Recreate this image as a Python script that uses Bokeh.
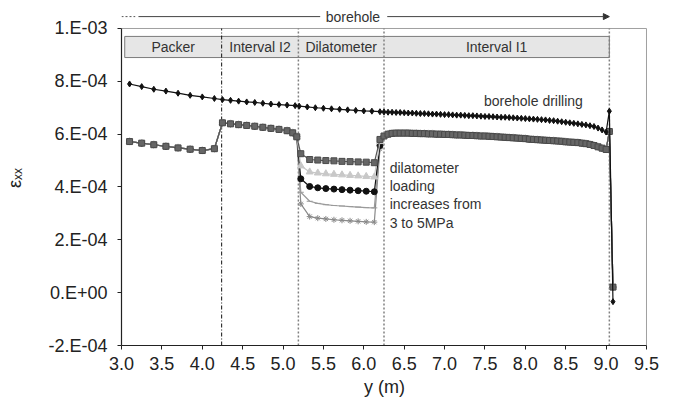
import numpy as np
from bokeh.plotting import figure
from bokeh.models import FixedTicker, Arrow, NormalHead, Label
from bokeh.core.properties import value
from bokeh.embed import file_html
from bokeh.resources import INLINE

FONT = "Liberation Sans"
E4 = 1e-4  # strain values below are stored in units of 1e-4

# ---- borehole drilling curve -------------------------------------------
drill_pos = [3.10, 3.25, 3.40, 3.55, 3.70, 3.85, 4.00, 4.15,
             4.25, 4.35, 4.45, 4.55, 4.65, 4.75, 4.85, 4.95, 5.05, 5.15,
             5.20, 5.30, 5.40, 5.50, 5.60, 5.70, 5.80, 5.90, 6.00, 6.10, 6.20,
             6.25, 6.30, 6.35, 6.40, 6.45, 6.50, 6.55, 6.60, 6.65, 6.70,
             6.75, 6.80, 6.85, 6.90, 6.95, 7.00, 7.05, 7.10, 7.15, 7.20,
             7.25, 7.30, 7.35, 7.40, 7.45, 7.50, 7.55, 7.60, 7.65, 7.70,
             7.75, 7.80, 7.85, 7.90, 7.95, 8.00, 8.05, 8.10, 8.15, 8.20,
             8.25, 8.30, 8.35, 8.40, 8.45, 8.50, 8.55, 8.60, 8.65, 8.70,
             8.75, 8.80, 8.85, 8.90, 8.95, 9.00,
             9.04, 9.085]
drill_eps = [7.90, 7.80, 7.70, 7.63, 7.55, 7.47, 7.41, 7.35,
             7.31, 7.28, 7.25, 7.22, 7.20, 7.17, 7.14, 7.12, 7.10, 7.08,
             7.06, 7.03, 7.00, 6.98, 6.96, 6.94, 6.92, 6.90, 6.88, 6.87, 6.85,
             6.84, 6.83, 6.83, 6.82, 6.82, 6.81, 6.80, 6.80, 6.79, 6.78,
             6.78, 6.77, 6.76, 6.76, 6.75, 6.74, 6.74, 6.73, 6.72, 6.72,
             6.71, 6.70, 6.70, 6.69, 6.68, 6.67, 6.67, 6.66, 6.65, 6.64,
             6.64, 6.63, 6.62, 6.61, 6.60, 6.59, 6.58, 6.57, 6.56, 6.55,
             6.54, 6.52, 6.51, 6.49, 6.47, 6.45, 6.43, 6.41, 6.39, 6.37,
             6.35, 6.32, 6.29, 6.23, 6.16, 6.08,
             6.87, -0.34]

# ---- dilatometer loading curves ------------------------------------------
# shared part before the dilatometer
load_pos_before = [3.10, 3.25, 3.40, 3.55, 3.70, 3.85, 4.00, 4.15,
                   4.25, 4.35, 4.45, 4.55, 4.65, 4.75, 4.85, 4.95, 5.05, 5.12, 5.17]
load_eps_before = [5.72, 5.66, 5.60, 5.54, 5.48, 5.43, 5.38, 5.45,
                   6.43, 6.39, 6.36, 6.33, 6.30, 6.26, 6.22, 6.18, 6.13, 6.05, 5.90]

# inside the dilatometer, one curve per loading step
dil_pos = [5.22, 5.33, 5.43, 5.53, 5.63, 5.73, 5.83, 5.93, 6.03, 6.13, 6.20]
dil_eps_3_0 = [5.26, 5.04, 5.02, 5.00, 4.99, 4.97, 4.96, 4.95, 4.94, 4.92, 5.80]
dil_eps_3_5 = [4.80, 4.57, 4.53, 4.50, 4.48, 4.46, 4.44, 4.42, 4.40, 4.38, 5.72]
dil_eps_4_0 = [4.31, 4.02, 3.97, 3.94, 3.92, 3.90, 3.88, 3.86, 3.84, 3.82, 5.57]
dil_eps_4_5 = [3.80, 3.46, 3.38, 3.33, 3.30, 3.28, 3.26, 3.24, 3.22, 3.21, 5.50]
dil_eps_5_0 = [3.36, 2.88, 2.82, 2.79, 2.76, 2.74, 2.72, 2.70, 2.68, 2.67, 5.45]

# shared part after the dilatometer
load_pos_after = [6.25, 6.30, 6.35, 6.40, 6.45, 6.50, 6.55, 6.60, 6.65, 6.70,
                  6.75, 6.80, 6.85, 6.90, 6.95, 7.00, 7.05, 7.10, 7.15, 7.20,
                  7.25, 7.30, 7.35, 7.40, 7.45, 7.50, 7.55, 7.60, 7.65, 7.70,
                  7.75, 7.80, 7.85, 7.90, 7.95, 8.00, 8.05, 8.10, 8.15, 8.20,
                  8.25, 8.30, 8.35, 8.40, 8.45, 8.50, 8.55, 8.60, 8.65, 8.70,
                  8.75, 8.80, 8.85, 8.90, 8.95, 9.00,
                  9.04, 9.085]
load_eps_after = [5.93, 6.00, 6.03, 6.04, 6.04, 6.04, 6.04, 6.03, 6.03, 6.02,
                  6.02, 6.01, 6.01, 6.00, 6.00, 5.99, 5.99, 5.98, 5.97, 5.97,
                  5.96, 5.95, 5.95, 5.94, 5.93, 5.93, 5.92, 5.91, 5.90, 5.89,
                  5.88, 5.87, 5.86, 5.85, 5.84, 5.83, 5.81, 5.80, 5.79, 5.78,
                  5.77, 5.76, 5.75, 5.74, 5.73, 5.71, 5.70, 5.69, 5.68, 5.66,
                  5.64, 5.61, 5.57, 5.52, 5.47, 5.42,
                  6.10, 0.21]

# ---- borehole sections -------------------------------------------------
section_names = ["Packer", "Interval I2", "Dilatometer", "Interval I1"]
section_edges = [3.04, 4.24, 5.19, 6.25, 9.04]

y_ticks = [-2e-4, 0.0, 2e-4, 4e-4, 6e-4, 8e-4, 1e-3]
y_tick_labels = ["-2.E-04", "0.E+00", "2.E-04", "4.E-04", "6.E-04", "8.E-04", "1.E-03"]
x_ticks = [3.0, 3.5, 4.0, 4.5, 5.0, 5.5, 6.0, 6.5, 7.0, 7.5, 8.0, 8.5, 9.0, 9.5]

X0, X1 = 3.0, 9.5
Y0, Y1 = -2e-4, 1e-3

# the frame is a little taller/wider than the axes so the borehole arrow
# above the plot box and the right border line can be drawn inside it
p = figure(width=677, height=403, x_range=(X0, 9.5124), y_range=(Y0, 1.0681e-3),
           output_backend="svg", toolbar_location=None,
           min_border_left=121, min_border_right=30,
           min_border_top=10, min_border_bottom=58)
p.xgrid.visible = False
p.ygrid.visible = False
p.outline_line_color = None
p.background_fill_color = "white"
p.border_fill_color = "white"

# axes
p.xaxis.ticker = FixedTicker(ticks=x_ticks)
p.xaxis.major_label_overrides = {t: f"{t:.1f}" for t in x_ticks}
p.xaxis.bounds = (X0, X1)
p.yaxis.ticker = FixedTicker(ticks=y_ticks)
p.yaxis.major_label_overrides = dict(zip(y_ticks, y_tick_labels))
p.yaxis.bounds = (Y0, Y1)
for ax in (p.xaxis[0], p.yaxis[0]):
    ax.axis_line_color = "#222222"
    ax.axis_line_width = 1.2
    ax.major_tick_line_color = "#222222"
    ax.major_tick_in = 0
    ax.major_tick_out = 4
    ax.minor_tick_line_color = None
    ax.major_label_text_font = FONT
    ax.major_label_text_font_size = "18px"
    ax.major_label_text_color = "#222222"
    ax.axis_label_text_font = FONT
    ax.axis_label_text_font_size = "18px"
    ax.axis_label_text_font_style = "normal"
    ax.axis_label_text_color = "#222222"
p.xaxis.axis_label = "y (m)"
p.xaxis.major_label_standoff = 7
p.xaxis.axis_label_standoff = 4
p.yaxis.axis_label = "εₓₓ"
p.yaxis.major_label_standoff = 10
p.yaxis.axis_label_standoff = 20

# plot box: top and right borders
p.line([X0, X1, X1], [Y1, Y1, Y0], line_color="#a0a0a0", line_width=1)

# section header bar
p.quad(left=section_edges[0], right=section_edges[-1], bottom=8.9e-4, top=9.7e-4,
       fill_color="#e6e6e6", line_color="#7a7a7a", line_width=1)
mids = [(a + b) / 2 for a, b in zip(section_edges[:-1], section_edges[1:])]
p.text(x=mids, y=[9.3e-4] * len(mids), text=section_names,
       text_font=value(FONT), text_font_size="14px", text_color="#333333",
       text_align="center", text_baseline="middle")

# section boundaries
p.segment(x0=[section_edges[1]], y0=[Y0], x1=[section_edges[1]], y1=[Y1],
          line_color="#111111", line_dash="4 2 1 2", line_width=1)
n = len(section_edges) - 2
p.segment(x0=section_edges[2:], y0=[Y0] * n, x1=section_edges[2:], y1=[Y1] * n,
          line_color="#808080", line_dash="2 2", line_width=1.5)

# loading curves
def load_curve(dil_vals):
    x = load_pos_before + dil_pos + load_pos_after
    y = np.array(load_eps_before + dil_vals + load_eps_after) * E4
    return x, y

styles = [
    (dil_eps_5_0, dict(marker="asterisk", size=6, line_color="#8a8a8a"), "#8a8a8a"),
    (dil_eps_4_5, dict(marker="dash", size=6, line_color="#9a9a9a"), "#9a9a9a"),
    (dil_eps_4_0, dict(marker="circle", size=6, fill_color="#111111", line_color="#111111"), "#111111"),
    (dil_eps_3_5, dict(marker="triangle", size=7, fill_color="#c8c8c8", line_color="#c8c8c8"), "#c8c8c8"),
    (dil_eps_3_0, dict(marker="square", size=6, fill_color="#666666", line_color="#4a4a4a"), "#555555"),
]
for vals, mk, lc in styles:
    x, y = load_curve(vals)
    p.line(x, y, line_color=lc, line_width=1.2)
    p.scatter(x, y, **mk)

# borehole drilling curve
dx = np.array(drill_pos)
dy = np.array(drill_eps) * E4
p.line(dx, dy, line_color="#111111", line_width=1.2)
p.scatter(dx, dy, marker="diamond", size=6, fill_color="#111111", line_color="#111111")

# annotations
p.text(x=[8.10], y=[7.24e-4], text=["borehole drilling"],
       text_font=value(FONT), text_font_size="14px", text_color="#333333",
       text_align="center", text_baseline="middle")
p.text(x=[6.32], y=[5.04e-4], text=["dilatometer\nloading\nincreases from\n3 to 5MPa"],
       text_font=value(FONT), text_font_size="14px", text_color="#333333",
       text_align="left", text_baseline="top", text_line_height=1.15)

# borehole arrow above the plot box
y_bh = 1.045e-3
p.line([X0, 3.17], [y_bh, y_bh], line_color="#555555", line_dash="2 2", line_width=1)
p.line([3.21, 5.46], [y_bh, y_bh], line_color="#444444", line_width=1)
p.add_layout(Arrow(end=NormalHead(size=6, fill_color="#333333", line_color="#333333"),
                   x_start=6.29, y_start=y_bh, x_end=9.04, y_end=y_bh,
                   line_color="#444444", line_width=1))
p.add_layout(Label(x=5.865, y=y_bh, text="borehole", text_font=FONT,
                   text_font_size="14px", text_color="#333333",
                   text_align="center", text_baseline="middle"))

open("out.html", "w").write(file_html(p, INLINE))
